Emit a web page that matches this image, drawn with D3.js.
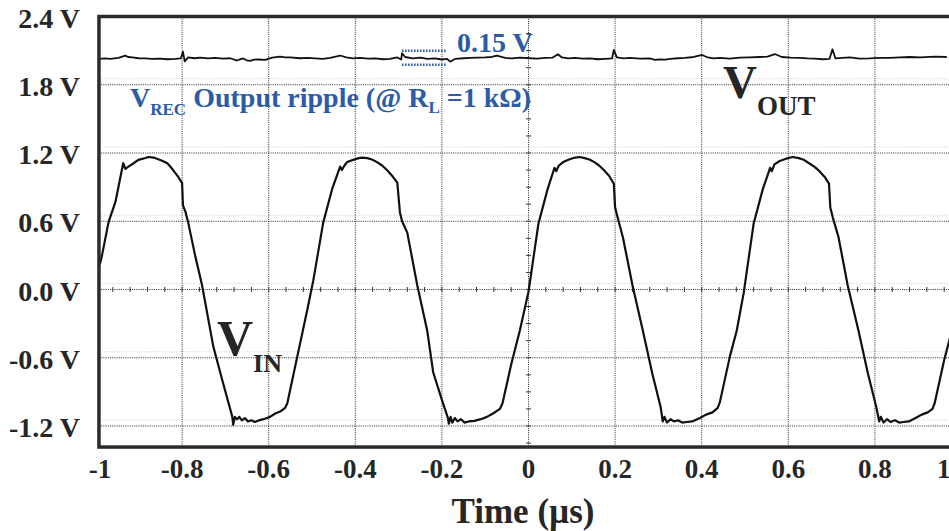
<!DOCTYPE html>
<html>
<head>
<meta charset="utf-8">
<script src="https://cdn.jsdelivr.net/npm/d3@7/dist/d3.min.js"></script>
<style>
body { margin: 0; background: #fff; }
svg text { font-family: "Liberation Serif", "Times New Roman", serif; font-weight: bold; fill: #262626; }
.grid { stroke: #2a2a2a; stroke-width: 1; stroke-dasharray: 1,1.2; }
.ghost { stroke: #cfcfcf; stroke-width: 1; stroke-dasharray: 1,1.5; }
.minor { stroke: #333; stroke-width: 1; }
.frame { fill: none; stroke: #2b2b2b; stroke-width: 3.5; }
.trace { fill: none; stroke: #111; stroke-linejoin: round; }
.blue { fill: #2c5ba8 !important; }
.ripple { stroke: #2c5ba8; stroke-width: 2.5; stroke-dasharray: 1.5,1.5; }
</style>
</head>
<body>
<script>
var w = 949;
var h = 531;

// axis ticks
var xTicks = [-1, -0.8, -0.6, -0.4, -0.2, 0, 0.2, 0.4, 0.6, 0.8, 1];
var xTickLabels = ["-1", "-0.8", "-0.6", "-0.4", "-0.2", "0", "0.2", "0.4", "0.6", "0.8", "1"];
var yTicks = [2.4, 1.8, 1.2, 0.6, 0, -0.6, -1.2];
var yTickLabels = ["2.4 V", "1.8 V", "1.2 V", "0.6 V", "0.0 V", "-0.6 V", "-1.2 V"];

// visible window of the scope screen (us, V)
var tRange = [-0.992, 0.982];
var vRange = [-1.385, 2.4];

// V_IN trace, [time us, volts]
var vin = [
  [-0.990, 0.22], [-0.985, 0.30], [-0.970, 0.59], [-0.954, 0.77], [-0.936, 1.11], [-0.931, 1.06],
  [-0.924, 1.08], [-0.912, 1.11], [-0.901, 1.14], [-0.890, 1.15], [-0.878, 1.165], [-0.866, 1.16],
  [-0.855, 1.145], [-0.845, 1.13], [-0.834, 1.11], [-0.825, 1.07], [-0.816, 1.025], [-0.808, 0.985],
  [-0.800, 0.935], [-0.798, 0.74], [-0.792, 0.68], [-0.786, 0.59], [-0.770, 0.30], [-0.754, 0.04],
  [-0.728, -0.50], [-0.707, -0.80], [-0.684, -1.12], [-0.682, -1.19], [-0.678, -1.12], [-0.673, -1.14],
  [-0.668, -1.12], [-0.662, -1.15], [-0.655, -1.13], [-0.648, -1.16], [-0.640, -1.15], [-0.632, -1.165],
  [-0.622, -1.15], [-0.612, -1.14], [-0.597, -1.12], [-0.585, -1.09], [-0.572, -1.07], [-0.562, -1.04],
  [-0.557, -1.00], [-0.534, -0.59], [-0.511, -0.18], [-0.497, 0.08],
  [-0.474, 0.59], [-0.453, 0.89], [-0.435, 1.08], [-0.431, 1.05], [-0.425, 1.09], [-0.419, 1.12],
  [-0.405, 1.14], [-0.392, 1.155], [-0.384, 1.16], [-0.372, 1.155], [-0.360, 1.14], [-0.350, 1.12],
  [-0.338, 1.09], [-0.327, 1.05], [-0.315, 1.00], [-0.303, 0.94], [-0.297, 0.68], [-0.292, 0.60],
  [-0.280, 0.50], [-0.257, 0.04], [-0.234, -0.36], [-0.220, -0.73], [-0.200, -0.97], [-0.186, -1.13],
  [-0.184, -1.18], [-0.180, -1.12], [-0.176, -1.17], [-0.170, -1.13], [-0.164, -1.16], [-0.156, -1.14],
  [-0.148, -1.17], [-0.138, -1.16], [-0.125, -1.155], [-0.110, -1.14], [-0.096, -1.12], [-0.082, -1.09],
  [-0.066, -1.05], [-0.060, -1.00], [-0.040, -0.66], [-0.020, -0.36], [0.000, -0.02],
  [0.023, 0.58], [0.044, 0.88], [0.060, 1.07], [0.064, 1.04], [0.070, 1.09], [0.080, 1.12],
  [0.095, 1.145], [0.108, 1.16], [0.118, 1.165], [0.130, 1.155], [0.142, 1.14], [0.152, 1.12],
  [0.163, 1.09], [0.174, 1.05], [0.186, 1.00], [0.197, 0.93], [0.200, 0.72], [0.206, 0.63],
  [0.218, 0.46], [0.240, 0.04], [0.264, -0.36], [0.286, -0.74], [0.305, -1.03], [0.310, -1.16],
  [0.314, -1.12], [0.320, -1.17], [0.328, -1.14], [0.336, -1.16], [0.345, -1.15], [0.355, -1.17],
  [0.365, -1.165], [0.378, -1.16], [0.396, -1.13], [0.410, -1.10], [0.425, -1.08], [0.437, -1.04],
  [0.442, -0.99], [0.465, -0.59], [0.481, -0.36], [0.497, -0.03],
  [0.520, 0.58], [0.541, 0.88], [0.558, 1.07], [0.562, 1.04], [0.568, 1.10], [0.580, 1.13],
  [0.595, 1.15], [0.610, 1.165], [0.624, 1.155], [0.636, 1.14], [0.648, 1.11], [0.660, 1.08],
  [0.672, 1.04], [0.684, 0.99], [0.694, 0.93], [0.697, 0.72], [0.703, 0.63], [0.716, 0.46],
  [0.737, 0.04], [0.762, -0.36], [0.784, -0.74], [0.803, -1.03], [0.810, -1.16], [0.814, -1.12],
  [0.820, -1.17], [0.828, -1.14], [0.836, -1.165], [0.846, -1.15], [0.856, -1.17], [0.866, -1.165],
  [0.878, -1.16], [0.894, -1.13], [0.908, -1.10], [0.922, -1.08], [0.933, -1.05], [0.938, -1.00],
  [0.960, -0.62], [0.982, -0.30]
];

// V_OUT trace, [time us, volts]
var vout = [
  [-0.991, 2.027], [-0.978, 2.031], [-0.966, 2.027], [-0.947, 2.036], [-0.931, 2.056], [-0.925, 2.044],
  [-0.915, 2.040], [-0.900, 2.033], [-0.885, 2.031], [-0.870, 2.027], [-0.851, 2.029], [-0.835, 2.024],
  [-0.816, 2.027], [-0.803, 2.031], [-0.798, 2.091], [-0.794, 2.005], [-0.786, 2.040], [-0.772, 2.033],
  [-0.758, 2.038], [-0.740, 2.031], [-0.724, 2.036], [-0.705, 2.029], [-0.689, 2.033], [-0.673, 2.013],
  [-0.666, 2.024], [-0.659, 2.031], [-0.651, 2.015], [-0.643, 2.009], [-0.634, 2.020], [-0.624, 2.022],
  [-0.608, 2.018], [-0.600, 2.030], [-0.592, 2.038], [-0.574, 2.047], [-0.562, 2.040], [-0.551, 2.040],
  [-0.527, 2.033], [-0.510, 2.036], [-0.493, 2.031], [-0.475, 2.027], [-0.458, 2.036], [-0.435, 2.057],
  [-0.421, 2.040], [-0.405, 2.031], [-0.389, 2.036], [-0.370, 2.029], [-0.354, 2.031], [-0.336, 2.024],
  [-0.320, 2.027], [-0.303, 2.040], [-0.294, 2.022], [-0.292, 2.077], [-0.285, 2.044], [-0.268, 2.031],
  [-0.250, 2.038], [-0.233, 2.027], [-0.216, 2.031], [-0.200, 2.022], [-0.188, 2.027], [-0.181, 2.003],
  [-0.170, 2.027], [-0.150, 2.033], [-0.135, 2.036], [-0.118, 2.038], [-0.100, 2.040], [-0.085, 2.044],
  [-0.073, 2.056], [-0.054, 2.036], [-0.038, 2.031], [-0.020, 2.038], [0.003, 2.033], [0.020, 2.029],
  [0.038, 2.036], [0.055, 2.038], [0.068, 2.068], [0.077, 2.040], [0.092, 2.031], [0.107, 2.036],
  [0.125, 2.029], [0.142, 2.031], [0.160, 2.024], [0.177, 2.027], [0.193, 2.031], [0.197, 2.106],
  [0.204, 2.040], [0.220, 2.031], [0.234, 2.036], [0.258, 2.029], [0.280, 2.031], [0.292, 2.018],
  [0.303, 2.022], [0.315, 2.020], [0.327, 2.027], [0.345, 2.033], [0.361, 2.036], [0.382, 2.044],
  [0.401, 2.062], [0.414, 2.040], [0.428, 2.031], [0.442, 2.036], [0.465, 2.029], [0.488, 2.038],
  [0.510, 2.040], [0.534, 2.044], [0.552, 2.047], [0.569, 2.070], [0.585, 2.044], [0.605, 2.038],
  [0.626, 2.036], [0.644, 2.031], [0.661, 2.029], [0.680, 2.024], [0.695, 2.027], [0.702, 2.112],
  [0.709, 2.031], [0.725, 2.036], [0.742, 2.040], [0.765, 2.029], [0.788, 2.031], [0.810, 2.036],
  [0.834, 2.036], [0.858, 2.040], [0.880, 2.044], [0.905, 2.040], [0.938, 2.047], [0.966, 2.044]
];

// ripple marker levels (V) and span (us)
var rippleLevels = [2.098, 1.975];
var rippleSpan = [-0.292, -0.188];

var x = d3.scaleLinear().domain([-1, 1]).range([95.5, 961.5]);
var y = d3.scaleLinear().domain([-1.2, 2.4]).range([426, 16.5]);

var plotLeft = x(tRange[0]), plotRight = x(tRange[1]);
var plotTop = y(vRange[1]), plotBottom = y(vRange[0]);

var svg = d3.select("body").append("svg")
    .attr("width", w)
    .attr("height", h);

svg.append("defs").append("clipPath")
    .attr("id", "plot")
  .append("rect")
    .attr("x", plotLeft)
    .attr("y", plotTop)
    .attr("width", plotRight - plotLeft)
    .attr("height", plotBottom - plotTop);

var plot = svg.append("g").attr("clip-path", "url(#plot)");

// faint ghost lines just above the horizontal grid
plot.selectAll(".ghost")
    .data(yTicks.slice(1))
  .enter().append("line")
    .attr("class", "ghost")
    .attr("x1", plotLeft).attr("x2", plotRight)
    .attr("y1", function(d) { return y(d) - 6; })
    .attr("y2", function(d) { return y(d) - 6; });

// grid
plot.selectAll(".vgrid")
    .data(xTicks)
  .enter().append("line")
    .attr("class", "grid vgrid")
    .attr("x1", function(d) { return x(d); })
    .attr("x2", function(d) { return x(d); })
    .attr("y1", plotTop).attr("y2", plotBottom);

plot.selectAll(".hgrid")
    .data(yTicks)
  .enter().append("line")
    .attr("class", "grid hgrid")
    .attr("x1", plotLeft).attr("x2", plotRight)
    .attr("y1", function(d) { return y(d); })
    .attr("y2", function(d) { return y(d); });

// minor ticks on the centre axes
plot.selectAll(".xminor")
    .data(d3.range(-1, 1.001, 0.04))
  .enter().append("line")
    .attr("class", "minor xminor")
    .attr("x1", function(d) { return x(d); })
    .attr("x2", function(d) { return x(d); })
    .attr("y1", y(0) - 2.5).attr("y2", y(0) + 2.5);

plot.selectAll(".yminor")
    .data(d3.range(-1.35, 2.4, 0.15))
  .enter().append("line")
    .attr("class", "minor yminor")
    .attr("x1", x(0) - 2.5).attr("x2", x(0) + 2.5)
    .attr("y1", function(d) { return y(d); })
    .attr("y2", function(d) { return y(d); });

// traces
var line = d3.line()
    .x(function(d) { return x(d[0]); })
    .y(function(d) { return y(d[1]); });

plot.append("path")
    .datum(vout)
    .attr("class", "trace")
    .attr("stroke-width", 1.8)
    .attr("d", line);

plot.append("path")
    .datum(vin)
    .attr("class", "trace")
    .attr("stroke-width", 2.2)
    .attr("d", line);

// ripple markers
svg.selectAll(".ripple")
    .data(rippleLevels)
  .enter().append("line")
    .attr("class", "ripple")
    .attr("x1", x(rippleSpan[0])).attr("x2", x(rippleSpan[1]))
    .attr("y1", function(d) { return y(d); })
    .attr("y2", function(d) { return y(d); });

// frame
svg.append("rect")
    .attr("class", "frame")
    .attr("x", plotLeft).attr("y", plotTop)
    .attr("width", plotRight - plotLeft)
    .attr("height", plotBottom - plotTop);

// tick labels
svg.selectAll(".xlab")
    .data(xTicks)
  .enter().append("text")
    .attr("class", "xlab")
    .attr("x", function(d) { return Math.min(Math.max(x(d), plotLeft + 1), plotRight - 10); })
    .attr("y", plotBottom + 31)
    .attr("text-anchor", "middle")
    .style("font-size", "27px")
    .text(function(d, i) { return xTickLabels[i]; });

svg.selectAll(".ylab")
    .data(yTicks)
  .enter().append("text")
    .attr("class", "ylab")
    .attr("x", 80)
    .attr("y", function(d) { return y(d) + 11; })
    .attr("text-anchor", "end")
    .style("font-size", "28px")
    .text(function(d, i) { return yTickLabels[i]; });

// axis title
svg.append("text")
    .attr("x", 523)
    .attr("y", 523)
    .attr("text-anchor", "middle")
    .style("font-size", "35px")
    .text("Time (\u00b5s)");

// annotations
var rec = svg.append("text")
    .attr("class", "blue")
    .attr("x", 130)
    .attr("y", 107)
    .style("font-size", "28px");
rec.append("tspan").attr("class", "blue").text("V");
rec.append("tspan").attr("class", "blue").attr("dy", 8).style("font-size", "17px").text("REC");
rec.append("tspan").attr("class", "blue").attr("dy", -8).text(" Output ripple (@ R");
rec.append("tspan").attr("class", "blue").attr("dy", 6).style("font-size", "17px").text("L");
rec.append("tspan").attr("class", "blue").attr("dy", -6).text(" =1 k\u03a9)");

svg.append("text")
    .attr("class", "blue")
    .attr("x", 457)
    .attr("y", 52)
    .style("font-size", "28px")
    .text("0.15 V");

var outLab = svg.append("text")
    .attr("x", 723)
    .attr("y", 98)
    .style("font-size", "47px");
outLab.append("tspan").text("V");
outLab.append("tspan").attr("dy", 17).style("font-size", "27px").text("OUT");

var inLab = svg.append("text")
    .attr("x", 217)
    .attr("y", 355)
    .style("font-size", "50px");
inLab.append("tspan").text("V");
inLab.append("tspan").attr("dy", 17).style("font-size", "26px").text("IN");
</script>
</body>
</html>
